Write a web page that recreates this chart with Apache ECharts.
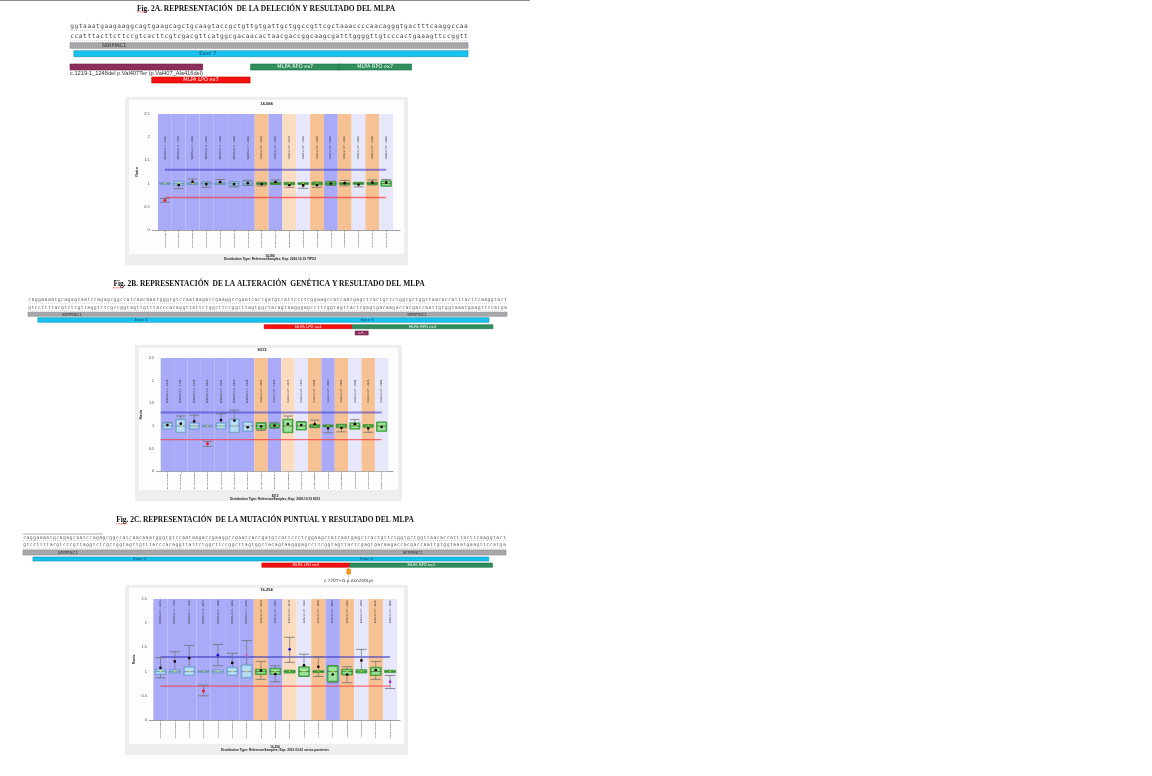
<!DOCTYPE html>
<html><head><meta charset="utf-8">
<script src="https://cdn.jsdelivr.net/npm/echarts@6/dist/echarts.min.js"></script>
<style>html,body{margin:0;padding:0;background:#fff}#c{width:1152px;height:776px}</style>
</head><body><div id="c"></div>
<script>
// ================= DATA =================
// sequences (strand + / strand -)
const seqA1 = "ggtaaatgaagaaggcagtgaagcagctgcaagtaccgctgttgtgattgctggccgttcgctaaaccccaacagggtgactttcaaggccaa";
const seqA2 = "ccatttacttcttccgtcacttcgtcgacgttcatggcgacaacactaacgaccggcaagcgatttggggttgtcccactgaaagttccggtt";
const seqB1 = "caggaaaatgcagagcaatccagagcggccatcaacaaatgggtgtccaataagaccgaaggccgaatcaccgatgtcattccctcggaagccatcaatgagctcactgttctggtgctggttaacaccatttacttcaaggtact";
const seqB2 = "gtccttttacgtctcgttaggtctcgccggtagttgtttacccacaggttattctggcttccggcttagtggctacagtaagggagccttcggtagttactcgagtgacaagaccacgaccaattgtggtaaatgaagttccatga";
const seqC1 = seqB1;
const seqC2 = seqB2;

// track features (positions in nucleotides)
const featuresA = [
  {kind:'gene', start:0, end:93, label:'SERPINC1', at:[10.3]},
  {kind:'exon', start:0.9, end:93, label:'Exon 7', at:[32.2]},
  {kind:'del', start:0, end:31, label:'', note:'c.1219-1_1248del p.Val407Ter (p.Val407_Ala416del)'},
  {kind:'rpo', start:42.2, end:63.1, label:'MLPA RPO ex7'},
  {kind:'rpo', start:62.8, end:79.8, label:'MLPA RPO ex7'},
  {kind:'lpo', start:19.1, end:42.1, label:'MLPA LPO ex7'}
];
const featuresB = [
  {kind:'gene', start:0, end:146, label:'SERPINC1', at:[13.4, 118.6]},
  {kind:'exon', start:3.0, end:140.5, label:'Exon 4', at:[34.5, 103.4]},
  {kind:'lpo', start:72, end:98.8, label:'MLPA LPO ex4'},
  {kind:'rpo', start:98.8, end:141.7, label:'MLPA RPO ex4'},
  {kind:'var', start:99.7, end:103.7, label:'c.P..'}
];
const featuresC = [
  {kind:'gene', start:0, end:146, label:'SERPINC1', at:[13.6, 117.8]},
  {kind:'exon', start:3.0, end:140.8, label:'Exon 4', at:[35.3, 103.9]},
  {kind:'lpo', start:72.2, end:98.8, label:'MLPA LPO ex4'},
  {kind:'rpo', start:98.8, end:141.9, label:'MLPA RPO ex4'},
  {kind:'snv', start:97.9, end:99.0, label:'', note:'c.720T>G p.Asn240Lys'}
];

// MLPA probes (categories)
const probeNames = ['SERPINC1 1 - 2236','SERPINC1 2 - 1744','SERPINC1 3 - 1298','SERPINC1 4 - 2400','SERPINC1 5 - 1648','SERPINC1 6 - 1466','SERPINC1 7 - 2296','Reference* - 2254','Reference* - 1306','Reference* - 2274','Reference* - 1360','Reference* - 1844','Reference* - 2080','Reference* - 2368','Reference* - 1094','Reference* - 2228','Reference* - 1998'];
const probeLocs = ['01-173.91306','01-173.90578','01-173.90308','01-173.89760','01-173.89215','01-173.88575','01-173.88254','05-101.27502','09-098.60712','06-064.00803','13-030.95742','11-061.05066','12-112.27702','14-088.06630','17-018.65633','19-017.41952','20-041.27624'];
const probeKinds = ['target','target','target','target','target','target','target','ref','ref','ref','ref','ref','ref','ref','ref','ref','ref'];
const bandTypes = ['blue','blue','blue','blue','blue','blue','blue','orange','blue','peach','lav','orange','blue','orange','lav','orange','lav'];
const upperLimit = 1.3, lowerLimit = 0.7, refMedian = 1.0;

// Fig 2A – sample 14-084
const ratioA = [0.64,0.97,1.04,0.99,1.03,0.99,1.01,0.99,1.03,0.97,0.96,0.97,1.00,1.01,0.98,1.02,1.02];
const boxLoA = [0.98,0.96,0.98,0.97,0.98,0.96,0.97,0.98,0.98,0.97,0.98,0.97,0.97,0.98,0.98,0.98,0.94];
const boxHiA = [1.02,1.05,1.03,1.03,1.03,1.04,1.04,1.02,1.03,1.03,1.02,1.03,1.04,1.02,1.03,1.03,1.06];
const errLoA = [0.60,0.89,0.99,0.92,0.98,0.93,0.96,0.95,0.99,0.92,0.90,0.92,0.96,0.95,0.93,0.97,0.97];
const errHiA = [0.68,1.02,1.10,1.03,1.09,1.04,1.07,1.03,1.08,1.01,1.01,1.03,1.05,1.07,1.02,1.08,1.09];
const flagsA = ['del','n','n','n','n','n','n','n','n','n','n','n','n','n','n','n','n'];
const spanA = [0, 16];

// Fig 2B – sample 8313
const ratioB = [1.02,1.05,1.10,0.61,1.13,1.12,0.97,0.99,1.01,1.04,1.02,1.04,0.95,0.96,1.04,0.95,0.98];
const boxLoB = [0.93,0.85,0.93,0.98,0.93,0.85,0.88,0.93,0.96,0.85,0.91,0.97,0.98,0.96,0.93,0.97,0.88];
const boxHiB = [1.07,1.15,1.07,1.02,1.07,1.15,1.09,1.07,1.05,1.15,1.09,1.03,1.02,1.04,1.07,1.03,1.09];
const errLoB = [0.95,0.92,0.98,0.55,1.00,0.95,0.90,0.90,0.95,0.90,0.95,0.96,0.85,0.87,0.96,0.86,0.90];
const errHiB = [1.08,1.22,1.24,0.66,1.27,1.35,1.05,1.07,1.08,1.22,1.10,1.13,1.02,1.03,1.14,1.02,1.06];
const flagsB = ['n','n','n','del','n','n','n','n','n','n','n','n','n','n','n','n','n'];
const spanB = [-0.5, 16];

// Fig 2C – sample 16-254
const ratioC = [1.08,1.21,1.28,0.60,1.34,1.18,1.33,1.02,0.95,1.46,1.13,1.10,0.94,0.94,1.23,1.03,0.79];
const boxLoC = [0.94,0.97,0.92,0.98,0.97,0.92,0.87,0.94,0.94,0.97,0.90,0.98,0.79,0.93,0.97,0.92,0.98];
const boxHiC = [1.05,1.04,1.10,1.02,1.04,1.09,1.14,1.05,1.07,1.03,1.10,1.02,1.12,1.05,1.04,1.09,1.03];
const errLoC = [0.87,1.00,1.00,0.50,1.12,0.98,1.00,0.84,0.79,1.19,0.90,0.90,0.77,0.77,1.00,0.84,0.65];
const errHiC = [1.29,1.41,1.54,0.72,1.56,1.38,1.64,1.21,1.12,1.71,1.36,1.31,1.12,1.10,1.46,1.21,0.92];
const flagsC = ['n','n','n','del','dup','n','pk','n','n','dup','n','n','n','n','n','n','pu'];
const spanC = [0, 16];

const titles = [
  'Fig. 2A. REPRESENTACIÓN  DE LA DELECIÓN Y RESULTADO DEL MLPA',
  'Fig. 2B. REPRESENTACIÓN  DE LA ALTERACIÓN  GENÉTICA Y RESULTADO DEL MLPA',
  'Fig. 2C. REPRESENTACIÓN  DE LA MUTACIÓN PUNTUAL Y RESULTADO DEL MLPA'
];
const sampleNames = ['14-084', '8313', '16-254'];
const expTexts = [
  'Distribution Type: ReferenceSamples; Exp: 2020.10.19 TIPO2',
  'Distribution Type: ReferenceSamples; Exp: 2020.10.19 8313',
  'Distribution Type: ReferenceSamples; Exp: 2021.03.02 varios pacientes'
];

// ================= STYLE / LAYOUT =================
const bandColor = {blue:'#a9abf9', orange:'#f7c293', peach:'#fcdcc0', lav:'#e7e7fb'};
const trackStyle = {
  gene:{fill:'#a7a8ac', stroke:'#86878b', text:'#333', fs:[5,4]},
  exon:{fill:'#17c2ee', stroke:'#0c8db3', text:'#163f60', fs:[5,3.8]},
  del:{fill:'#8d2e5d', stroke:'#6a1f44', text:'#fff', fs:[5,3.8]},
  var:{fill:'#8d2e5d', stroke:'#6a1f44', text:'#fff', fs:[5,3.2]},
  rpo:{fill:'#2f8e5c', stroke:'#1f6b44', text:'#fff', fs:[5,3.8]},
  lpo:{fill:'#f81010', stroke:'#c00000', text:'#fff', fs:[5,3.8]},
  snv:{fill:'#f6a11c', stroke:'#d07a00', text:'#fff', fs:[5,3.8]}
};
const trackPanels = [
  {feats:featuresA, s1:seqA1, s2:seqA2, left:70, width:398, seqFs:6.2, seqColor:'#444', labFs:0,
   rows:{seq:[26,36], rule:[30.6,40.6], gene:[42.7,48.3], exon:[50.7,56.7], del:[64,70], rpo:[64,70], lpo:[77,83], note:73.2}},
  {feats:featuresB, s1:seqB1, s2:seqB2, left:28, width:479, seqFs:4.8, seqColor:'#666', labFs:1,
   rows:{seq:[300,308], rule:[303.2,311], gene:[312.3,316.3], exon:[317.7,322.3], lpo:[324.7,328.7], rpo:[324.7,328.7], var:[331,335]}},
  {feats:featuresC, s1:seqC1, s2:seqC2, left:23, width:483, seqFs:4.8, seqColor:'#666', labFs:1,
   rows:{seq:[537.3,545], rule:[540.5,548.2], gene:[550,555], exon:[557,561], lpo:[563,567.3], rpo:[563,567.3], snv:[569,574], note:580.5}}
];
const chartPanels = [
  {grid:{left:152, top:114, width:248, height:116}, xmin:-0.93, xmax:17.0, labTop:2.02, nameGap:13,
   bg:[125,97,408,265], title:[266.5,104], foot:[270,256.3,259.6],
   d:{ratio:ratioA, lo:boxLoA, hi:boxHiA, el:errLoA, eh:errHiA, flags:flagsA, span:spanA}},
  {grid:{left:156.7, top:358, width:236.3, height:113.3}, xmin:-0.8, xmax:16.85, labTop:2.02, nameGap:14,
   bg:[135,345,402,501], title:[262,349.5], foot:[275,495.8,498.8],
   d:{ratio:ratioB, lo:boxLoB, hi:boxHiB, el:errLoB, eh:errHiB, flags:flagsB, span:spanB}},
  {grid:{left:149.3, top:599, width:250.7, height:121}, xmin:-0.78, xmax:16.69, labTop:2.47, nameGap:13,
   bg:[125,585,408,755], title:[266.5,589.5], foot:[275,747.6,750.6],
   d:{ratio:ratioC, lo:boxLoC, hi:boxHiC, el:errLoC, eh:errHiC, flags:flagsC, span:spanC}}
];
const dotColor = {n:'#1c0202', del:'#ff0a0a', dup:'#1010e0', pk:'#cc66cc', pu:'#9a1fd0'};
const titlePos = [[266,8.6],[269,284.5],[265,520.5]];
const figUnderline = [[137,147,11.9],[113,124,287.8],[116,127,523.8]];

// ================= BUILD =================
const grids = [], xAxes = [], yAxes = [], series = [];
const Y_MAX = 2.5;

trackPanels.forEach((T, k) => {
  const gi = grids.length;
  const n = T.s1.length;
  grids.push({left:T.left, width:T.width, top:0, height:776});
  xAxes.push({gridIndex:gi, type:'value', min:0, max:n, show:false});
  yAxes.push({gridIndex:gi, type:'value', min:0, max:776, inverse:true, show:false});
  const seqData = [];
  for (let i = 0; i < n; i++) { seqData.push([i, 0]); seqData.push([i, 1]); }
  series.push({
    type:'custom', xAxisIndex:gi, yAxisIndex:gi, silent:true, clip:false, z:3,
    data:seqData,
    renderItem:(params, api) => {
      const i = api.value(0), r = api.value(1);
      const ch = (r === 0 ? T.s1 : T.s2)[i];
      const x = api.coord([i + 0.5, 0])[0];
      return {type:'text', x:x, y:T.rows.seq[r],
        style:{text:ch, fill:T.seqColor, fontSize:T.seqFs, fontFamily:'DejaVu Sans Mono', align:'center', verticalAlign:'middle'}};
    }
  });
  series.push({
    type:'custom', xAxisIndex:gi, yAxisIndex:gi, silent:true, clip:false, z:2,
    data:[[0, n, 0],[0, n, 1]],
    renderItem:(params, api) => {
      const x0 = api.coord([api.value(0), 0])[0], x1 = api.coord([api.value(1), 0])[0];
      const y = T.rows.rule[api.value(2)];
      return {type:'line', shape:{x1:x0, y1:y, x2:x1, y2:y}, style:{stroke:'#b5b5b5', lineWidth:0.8, lineDash:[0.8,1.2]}};
    }
  });
  series.push({
    type:'custom', xAxisIndex:gi, yAxisIndex:gi, silent:true, clip:false, z:4,
    data:T.feats.map((f, i) => [f.start, f.end, i]),
    renderItem:(params, api) => {
      const f = T.feats[api.value(2)];
      const st = trackStyle[f.kind];
      const yy = T.rows[f.kind];
      const x0 = api.coord([api.value(0), 0])[0], x1 = api.coord([api.value(1), 0])[0];
      const ch = [];
      if (f.kind === 'snv') {
        const xm = (x0 + x1) / 2;
        ch.push({type:'line', shape:{x1:xm, y1:yy[0]-2, x2:xm, y2:T.rows.note-3}, style:{stroke:'#cfcfcf', lineWidth:1.2}});
      }
      ch.push({type:'rect', shape:{x:x0, y:yy[0], width:x1-x0, height:yy[1]-yy[0]}, style:{fill:st.fill, stroke:st.stroke, lineWidth:0.6}});
      if (f.label) {
        const pos = f.at || [(f.start + f.end) / 2];
        pos.forEach(p => {
          ch.push({type:'text', x:api.coord([p, 0])[0], y:(yy[0]+yy[1])/2 + 0.2,
            style:{text:f.label, fill:st.text, fontSize:st.fs[T.labFs], fontFamily:'DejaVu Sans', align:'center', verticalAlign:'middle'}});
        });
      }
      if (f.note) {
        if (f.kind === 'snv') {
          ch.push({type:'text', x:(x0+x1)/2, y:T.rows.note, style:{text:f.note, fill:'#333', fontSize:4.3, fontFamily:'DejaVu Sans', align:'center', verticalAlign:'middle'}});
        } else {
          ch.push({type:'text', x:x0, y:T.rows.note, style:{text:f.note, fill:'#333', fontSize:5.7, fontFamily:'Liberation Sans', align:'left', verticalAlign:'middle'}});
        }
      }
      return {type:'group', children:ch};
    }
  });
  const C = chartPanels[k];
  const ci = grids.length;
  grids.push(C.grid);
  xAxes.push({gridIndex:ci, type:'value', min:C.xmin, max:C.xmax,
    axisLine:{show:true, lineStyle:{color:'#8a8a8a', width:0.8}},
    axisTick:{show:true, length:2, lineStyle:{color:'#8a8a8a', width:0.6}, customValues:probeLocs.map((s,i)=>i)},
    axisLabel:{show:true, rotate:90, fontSize:2.5, color:'#333', margin:2.5, customValues:probeLocs.map((s,i)=>i),
      formatter:(v)=>probeLocs[Math.round(v)]},
    splitLine:{show:false}});
  yAxes.push({gridIndex:ci, type:'value', min:0, max:Y_MAX, interval:0.5,
    name:'Ratio', nameLocation:'middle', nameRotate:90, nameGap:C.nameGap,
    nameTextStyle:{fontSize:3.8, color:'#333', fontWeight:'bold'},
    axisLine:{show:true, lineStyle:{color:'#8a8a8a', width:0.8}},
    axisTick:{show:true, length:2, lineStyle:{color:'#8a8a8a', width:0.6}},
    axisLabel:{show:true, fontSize:3.8, color:'#444', margin:2.5},
    splitLine:{show:false}});
  const D = C.d;
  series.push({
    type:'custom', xAxisIndex:ci, yAxisIndex:ci, silent:true, z:1,
    data:bandTypes.map((t, i) => [i, 0]),
    renderItem:(params, api) => {
      const i = api.value(0);
      const p0 = api.coord([i - 0.5, Y_MAX]), p1 = api.coord([i + 0.5, 0]);
      return {type:'rect', shape:{x:p0[0], y:p0[1], width:p1[0]-p0[0], height:p1[1]-p0[1]}, style:{fill:bandColor[bandTypes[i]]}};
    }
  });
  series.push({
    type:'custom', xAxisIndex:ci, yAxisIndex:ci, silent:true, clip:false, z:3,
    data:probeNames.map((s, i) => [i, C.labTop]),
    renderItem:(params, api) => {
      const p = api.coord([api.value(0), api.value(1)]);
      return {type:'text', x:p[0], y:p[1], rotation:Math.PI/2,
        style:{text:probeNames[api.value(0)], fill:'#2a2a2a', fontSize:2.5, fontFamily:'DejaVu Sans', align:'right', verticalAlign:'middle'}};
    }
  });
  series.push({type:'line', xAxisIndex:ci, yAxisIndex:ci, silent:true, symbol:'none', z:3,
    data:[[D.span[0], upperLimit],[D.span[1], upperLimit]], lineStyle:{color:'#3535c4', opacity:0.55, width:2}});
  series.push({type:'line', xAxisIndex:ci, yAxisIndex:ci, silent:true, symbol:'none', z:3,
    data:[[D.span[0], lowerLimit],[D.span[1], lowerLimit]], lineStyle:{color:'#ff2a2a', opacity:0.65, width:1.3}});
  series.push({
    type:'custom', xAxisIndex:ci, yAxisIndex:ci, silent:true, clip:false, z:5,
    data:D.ratio.map((r, i) => [i, D.lo[i], D.hi[i], r, D.el[i], D.eh[i]]),
    renderItem:(params, api) => {
      const i = api.value(0), lo = api.value(1), hi = api.value(2), r = api.value(3), el = api.value(4), eh = api.value(5);
      const bw = 0.38, cw = 0.36;
      const a = api.coord([i - bw, hi]), b = api.coord([i + bw, lo]);
      const m = api.coord([i, refMedian]);
      const top = api.coord([i, eh]), bot = api.coord([i, el]);
      const cl = api.coord([i - cw, 0])[0], cr = api.coord([i + cw, 0])[0];
      const dp = api.coord([i, r]);
      const isRef = probeKinds[i] === 'ref';
      const fillO = isRef ? '#49b949' : '#86bfe8', fillI = isRef ? '#9fe39f' : '#b9ddf7';
      const strk = isRef ? '#2b8a2b' : '#6f8fb4', med = isRef ? '#2a6e2a' : '#5f7f9f';
      const ch = [
        {type:'line', shape:{x1:top[0], y1:top[1], x2:bot[0], y2:bot[1]}, style:{stroke:'#707070', lineWidth:0.7}},
        {type:'line', shape:{x1:cl, y1:top[1], x2:cr, y2:top[1]}, style:{stroke:'#707070', lineWidth:0.8}},
        {type:'line', shape:{x1:cl, y1:bot[1], x2:cr, y2:bot[1]}, style:{stroke:'#707070', lineWidth:0.8}},
        {type:'rect', shape:{x:a[0], y:a[1], width:b[0]-a[0], height:b[1]-a[1]}, style:{fill:fillO, stroke:strk, lineWidth:0.6}},
        {type:'rect', shape:{x:a[0]+1.3, y:a[1]+1.1, width:Math.max(0, b[0]-a[0]-2.6), height:Math.max(0, b[1]-a[1]-2.2)}, style:{fill:fillI}},
        {type:'line', shape:{x1:a[0], y1:m[1], x2:b[0], y2:m[1]}, style:{stroke:med, lineWidth:0.7}},
        {type:'circle', shape:{cx:m[0], cy:m[1], r:0.75}, style:{fill:'#eee000'}},
        {type:'circle', shape:{cx:dp[0], cy:dp[1], r:1.35}, style:{fill:dotColor[D.flags[i]]}}
      ];
      return {type:'group', children:ch};
    }
  });
});

const graphic = [];
graphic.push({type:'line', shape:{x1:0, y1:0.5, x2:530, y2:0.5}, style:{stroke:'#8a8a8a', lineWidth:1}, z:0});
graphic.push({type:'line', shape:{x1:23, y1:534, x2:103, y2:534}, style:{stroke:'#9a9a9a', lineWidth:0.8}, z:0});
chartPanels.forEach((C, k) => {
  const [x0, y0, x1, y1] = C.bg;
  graphic.push({type:'rect', shape:{x:x0, y:y0, width:x1-x0, height:y1-y0}, style:{fill:'#eeeeee'}, z:-10});
  graphic.push({type:'rect', shape:{x:x0+4, y:y0+3, width:x1-x0-8, height:y1-y0-14}, style:{fill:'#fdfdfd'}, z:-9});
  graphic.push({type:'text', x:C.title[0], y:C.title[1], style:{text:sampleNames[k], fontSize:4, fontWeight:'bold', fill:'#222', fontFamily:'Liberation Sans', align:'center', verticalAlign:'middle'}, z:0});
  graphic.push({type:'text', x:C.foot[0], y:C.foot[1], style:{text:sampleNames[k], fontSize:3, fontWeight:'bold', fill:'#222', fontFamily:'Liberation Sans', align:'center', verticalAlign:'middle'}, z:0});
  graphic.push({type:'text', x:C.foot[0], y:C.foot[2], style:{text:expTexts[k], fontSize:3.2, fontWeight:'bold', fill:'#222', fontFamily:'Liberation Sans', align:'center', verticalAlign:'middle'}, z:0});
});
titles.forEach((t, k) => {
  graphic.push({type:'text', x:titlePos[k][0], y:titlePos[k][1], style:{text:t, fontSize:7.45, fontWeight:'bold', fill:'#111', fontFamily:'Liberation Serif', align:'center', verticalAlign:'middle'}, z:0});
  const u = figUnderline[k];
  graphic.push({type:'line', shape:{x1:u[0], y1:u[2], x2:u[1], y2:u[2]}, style:{stroke:'#e02020', lineWidth:0.8, lineDash:[1,0.6]}, z:0});
});

const chart = echarts.init(document.getElementById('c'), null, {width:1152, height:776});
chart.setOption({
  backgroundColor:'#ffffff',
  animation:false,
  grid:grids, xAxis:xAxes, yAxis:yAxes, series:series, graphic:graphic
});
</script>
</body></html>
